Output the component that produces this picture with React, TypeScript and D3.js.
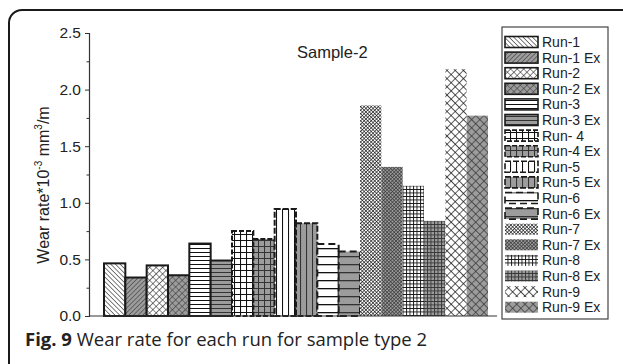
import * as d3 from "d3";
import { useRef, useEffect } from "react";

const runs = [
  "Run-1", "Run-1 Ex", "Run-2", "Run-2 Ex", "Run-3", "Run-3 Ex",
  "Run- 4", "Run-4 Ex", "Run-5", "Run-5 Ex", "Run-6", "Run-6 Ex",
  "Run-7", "Run-7 Ex", "Run-8", "Run-8 Ex", "Run-9", "Run-9 Ex",
];
const wearRate = [
  0.465, 0.34, 0.447, 0.36, 0.64, 0.49,
  0.75, 0.68, 0.946, 0.82, 0.635, 0.57,
  1.86, 1.317, 1.15, 0.84, 2.18, 1.77,
];
const majorTicks = [0, 0.5, 1.0, 1.5, 2.0, 2.5];
const minorTicks = [0.25, 0.75, 1.25, 1.75, 2.25];

const W = 623;
const H = 364;
const plot = { left: 89, right: 497, top: 33, bottom: 316 };
const GREY = "#9c9c9c";

// one fill pattern per bar: [background, kind, spacing, line width]
const patternSpec: [string, string, number, number][] = [
  ["#fff", "diagR", 3.3, 1.1],
  [GREY, "diagL", 3.3, 1.1],
  ["#fff", "diamond", 4.6, 1.1],
  [GREY, "diamond", 4.6, 1.1],
  ["#fff", "horiz", 4, 1],
  [GREY, "horiz", 4, 1],
  ["#fff", "grid", 6, 1.1],
  [GREY, "grid", 6, 1.1],
  ["#fff", "vert", 6, 1.1],
  [GREY, "vert", 6, 1.1],
  ["#fff", "horiz", 8, 1.6],
  [GREY, "horiz", 8, 1.6],
  ["#fff", "diamond", 2.5, 1.25],
  [GREY, "diamond", 2.5, 1.25],
  ["#fff", "grid", 3.5, 0.9],
  [GREY, "grid", 3.5, 0.9],
  ["#fff", "diamond", 5.8, 1.3],
  [GREY, "diamond", 5.8, 1.3],
];
// bar outline dash
const borderDash = [
  "", "", "", "", "", "",
  "5 2", "5 2", "6 2", "6 2", "7 4", "7 4",
  "none", "none", "none", "none", "none", "none",
];

function PatternDef({ id, spec }: { id: string; spec: [string, string, number, number] }) {
  const [bg, kind, s, lw] = spec;
  const ink = bg === "#fff" ? "#111" : "#333";
  let transform: string | undefined;
  let d = "";
  if (kind === "diagR") { transform = "rotate(-45)"; d = `M0,0V${s}`; }
  if (kind === "diagL") { transform = "rotate(45)"; d = `M0,0V${s}`; }
  if (kind === "diamond") { transform = "rotate(45)"; d = `M0,0V${s}M0,0H${s}`; }
  if (kind === "horiz") d = `M0,0.5H${s}`;
  if (kind === "vert") d = `M0.5,0V${s}`;
  if (kind === "grid") d = `M0,0.5H${s}M0.5,0V${s}`;
  return (
    <pattern id={id} width={s} height={s} patternUnits="userSpaceOnUse" patternTransform={transform}>
      <rect width={s} height={s} fill={bg} />
      <path d={d} stroke={ink} strokeWidth={lw} fill="none" />
    </pattern>
  );
}

export default function App() {
  const axisRef = useRef<SVGGElement>(null);

  const x = d3.scaleBand().domain(runs).range([plot.left + 15, plot.right - 9]).padding(0);
  const y = d3.scaleLinear().domain([0, 2.5]).range([plot.bottom, plot.top]);

  useEffect(() => {
    const g = d3.select(axisRef.current);
    g.selectAll("*").remove();
    const major = g.append("g").call(
      d3.axisLeft(y).tickValues(majorTicks).tickSize(4).tickFormat(d3.format(".1f"))
    );
    major.select(".domain").attr("stroke", "#333").attr("stroke-width", 1.2);
    major.selectAll(".tick line").attr("stroke", "#333");
    major
      .selectAll(".tick text")
      .attr("font-family", "Liberation Sans, Arial, sans-serif")
      .attr("font-size", 15.5)
      .attr("fill", "#222")
      .attr("x", -8);
    const minor = g.append("g").call(
      d3.axisLeft(y).tickValues(minorTicks).tickSize(2.5).tickFormat(() => "")
    );
    minor.select(".domain").remove();
    minor.selectAll(".tick line").attr("stroke", "#333");
  }, []);

  const legendTop = 42;
  const legendStep = 15.6;

  return (
    <svg width={W} height={H} style={{ position: "absolute", left: 0, top: 0 }}>
      <defs>
        {patternSpec.map((p, i) => (
          <PatternDef key={i} id={`pat${i}`} spec={p} />
        ))}
      </defs>
      <rect x={0} y={0} width={W} height={H} fill="#fff" />
      <rect x={9} y={10} width={700} height={400} rx={13} fill="none" stroke="#1a1a1a" strokeWidth={2} />

      {/* bars */}
      {runs.map((r, i) => (
        <rect
          key={r}
          x={x(r)}
          y={y(wearRate[i])}
          width={x.bandwidth()}
          height={y(0) - y(wearRate[i])}
          fill={`url(#pat${i})`}
          stroke={borderDash[i] === "none" ? "none" : "#1a1a1a"}
          strokeWidth={2}
          strokeDasharray={borderDash[i] || undefined}
        />
      ))}

      {/* axes */}
      <g ref={axisRef} transform={`translate(${plot.left},0)`} />
      <line x1={plot.left} x2={plot.right} y1={y(0)} y2={y(0)} stroke="#333" strokeWidth={1.2} />

      <text
        transform={`translate(49,185) rotate(-90)`}
        textAnchor="middle"
        fontFamily="Liberation Sans, Arial, sans-serif"
        fontSize={16}
        fill="#222"
      >
        Wear rate*10
        <tspan dy={-7} fontSize={10}>-3</tspan>
        <tspan dy={7}> mm</tspan>
        <tspan dy={-7} fontSize={10}>3</tspan>
        <tspan dy={7}>/m</tspan>
      </text>

      <text x={297} y={58} fontFamily="Liberation Sans, Arial, sans-serif" fontSize={16.5} fill="#222">
        Sample-2
      </text>

      {/* legend */}
      <rect x={502} y={27} width={106} height={292} fill="#fff" stroke="#444" strokeWidth={1.2} />
      {runs.map((r, i) => {
        const cy = legendTop + i * legendStep;
        return (
          <g key={r}>
            <rect
              x={505}
              y={cy - 5.5}
              width={33}
              height={11}
              fill={`url(#pat${i})`}
              stroke={borderDash[i] === "none" ? "none" : "#1a1a1a"}
              strokeWidth={1.6}
              strokeDasharray={borderDash[i] || undefined}
            />
            <text
              x={542}
              y={cy}
              dy="0.35em"
              fontFamily="Liberation Sans, Arial, sans-serif"
              fontSize={14}
              fill="#222"
            >
              {r}
            </text>
          </g>
        );
      })}

      {/* caption */}
      <text x={25} y={346} fontFamily="Open Sans, sans-serif" fontSize={18.5} fill="#222">
        <tspan fontWeight="bold">Fig. 9</tspan>
        <tspan> Wear rate for each run for sample type 2</tspan>
      </text>
    </svg>
  );
}
